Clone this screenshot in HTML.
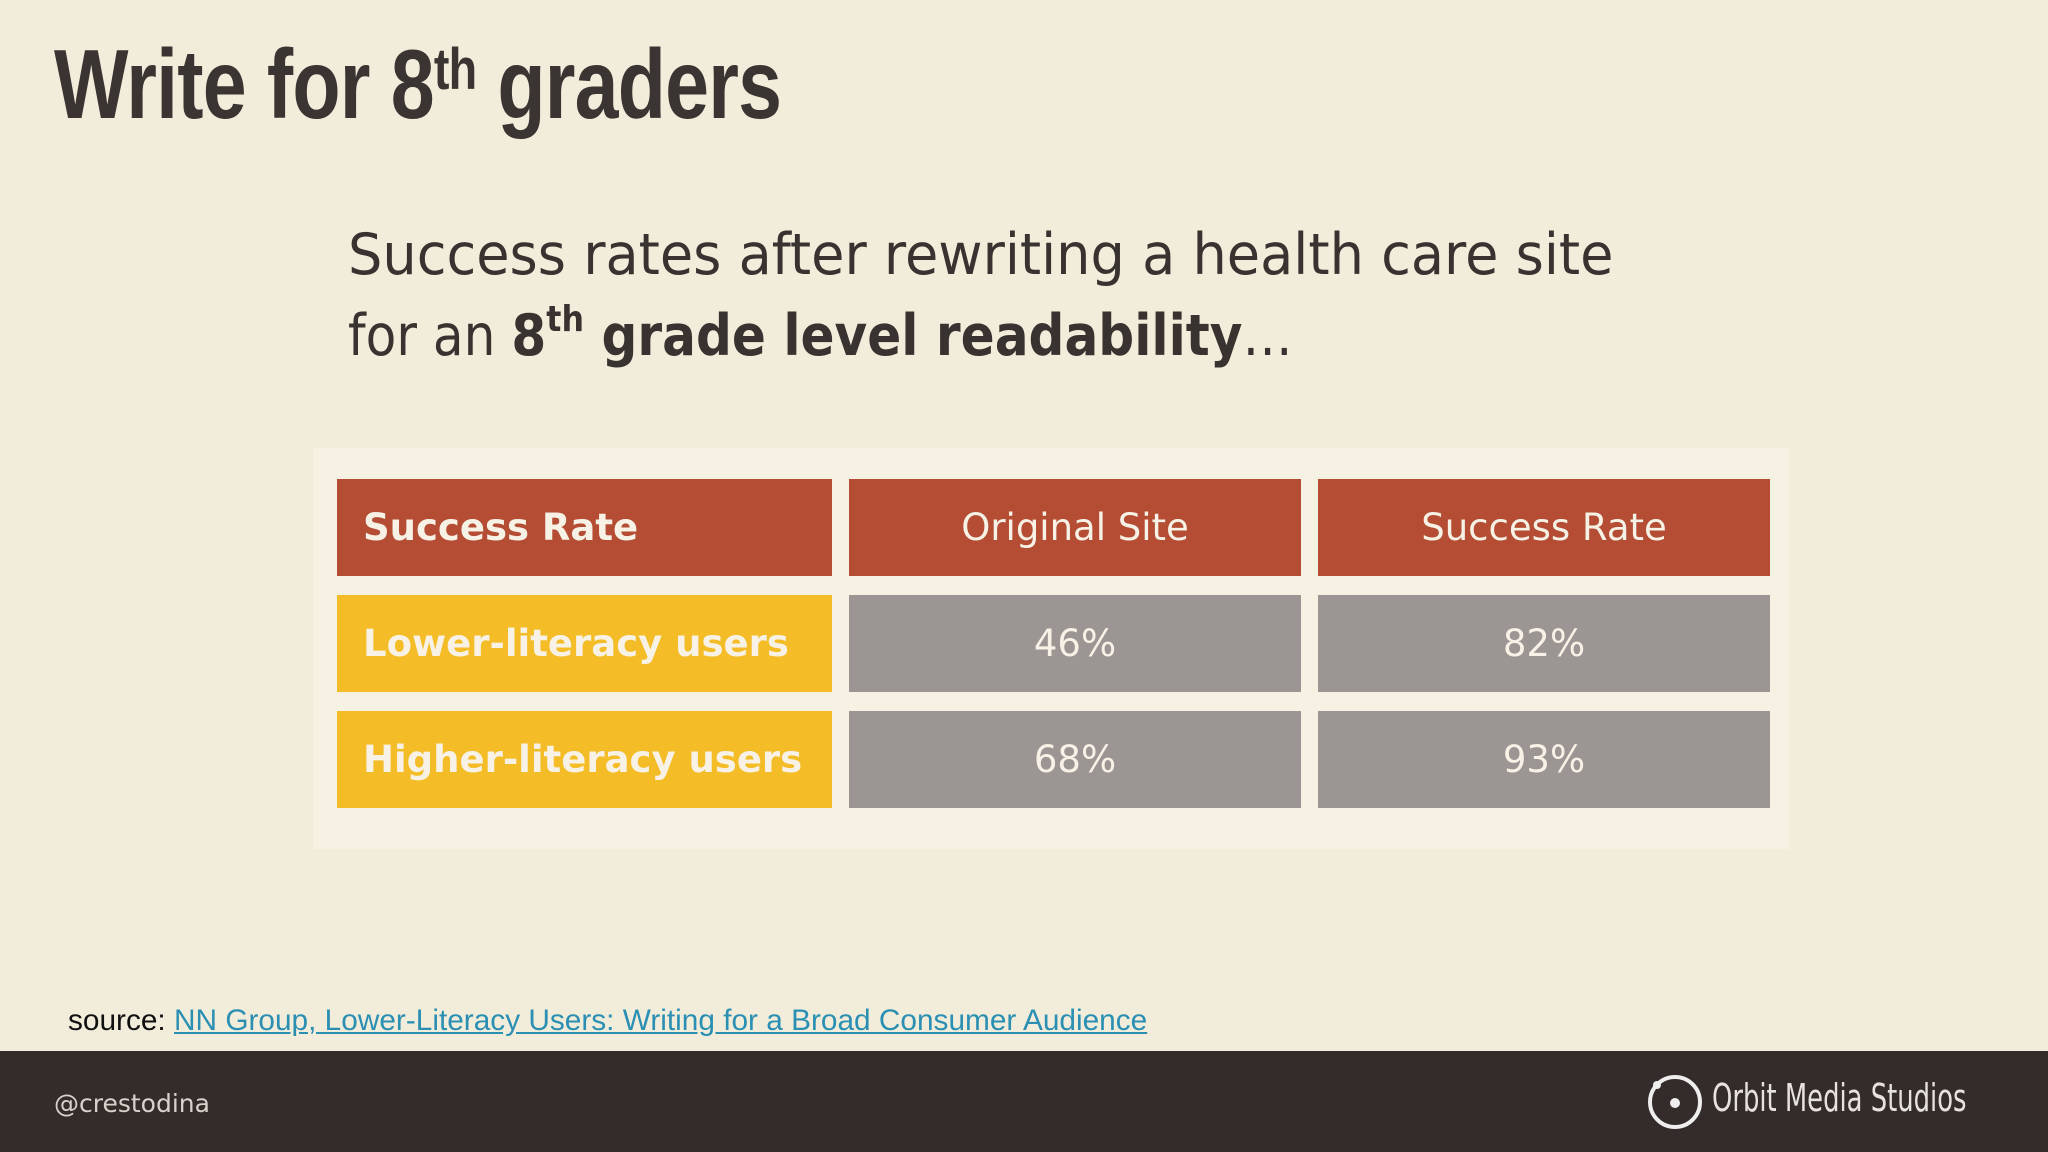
<!DOCTYPE html>
<html><head><meta charset="utf-8">
<style>
body{margin:0;width:2048px;height:1152px;background:#f2eddb;position:relative;overflow:hidden;font-family:"Liberation Sans",sans-serif}
.abs{position:absolute}
#title{left:54px;top:28px;font-size:98px;font-weight:bold;color:#3a3532;transform:scaleX(0.805);transform-origin:left top;white-space:nowrap;letter-spacing:-1px}
#title sup{font-size:58px;vertical-align:top;position:relative;top:8px}
.sub{left:348px;font-family:"DejaVu Sans",sans-serif;font-size:57px;color:#383330;white-space:nowrap;transform-origin:left top}
.sub sup{font-size:36px;vertical-align:top;position:relative;top:-4px}
#panel{left:313px;top:448px;width:1476px;height:401px;background:#f6f1e3}
.cell{position:absolute;display:flex;align-items:center;font-family:"DejaVu Sans",sans-serif;font-size:37px;color:#f7f1e6;white-space:nowrap;box-sizing:border-box}
.hd{background:#b44d33}
.lab{background:#f4bd27;font-weight:bold;padding-left:26px}
.val{background:#9b9594;justify-content:center}
#footer{left:0;top:1051px;width:2048px;height:101px;background:#342c2a}
</style></head><body>
<div id="title" class="abs">Write for 8<sup>th</sup> graders</div>
<div class="abs sub" style="top:222px;transform:scaleX(0.95)">Success rates after rewriting a health care site</div>
<div class="abs sub" style="top:303px;transform:scaleX(0.88)">for an <b>8<sup>th</sup> grade level readability</b>…</div>
<div id="panel" class="abs"></div>
<div id="table"></div>
<div class="abs" style="left:68px;top:1004px;font-size:29.8px;color:#111">source: <a href="#" style="color:#2a8fb3">NN Group, Lower-Literacy Users: Writing for a Broad Consumer Audience</a></div>
<div id="footer" class="abs"></div>
<div class="abs" style="left:54px;top:1089px;font-family:'DejaVu Sans',sans-serif;font-size:25px;color:#d8d2cc">@crestodina</div>
<svg class="abs" style="left:1646px;top:1072px" width="60" height="60"><circle cx="29" cy="30" r="25" fill="none" stroke="#eee" stroke-width="4"/><circle cx="29" cy="31" r="5" fill="#eee"/><circle cx="11" cy="13" r="4" fill="#eee"/></svg>
<div class="abs" style="left:1712px;top:1076px;font-family:'DejaVu Sans',sans-serif;font-size:38px;color:#e6e2dd;transform:scaleX(0.68);transform-origin:left top;white-space:nowrap">Orbit Media Studios</div>
<script>
const headers=["Success Rate","Original Site","Success Rate"];
const rowLabels=["Lower-literacy users","Higher-literacy users"];
const originalSite=["46%","68%"];
const rewrittenSite=["82%","93%"];
const colX=[337,849,1318], colW=[495,452,452];
const rowY=[479,595,711], rowH=97;
const t=document.getElementById('table');
function mk(cls,x,y,w,txt){const d=document.createElement('div');d.className='cell '+cls;d.style.left=x+'px';d.style.top=y+'px';d.style.width=w+'px';d.style.height=rowH+'px';d.textContent=txt;t.appendChild(d);return d;}
headers.forEach((h,i)=>{const d=mk('hd',colX[i],rowY[0],colW[i],h);


if(i===0){d.style.fontWeight='bold';d.style.paddingLeft='26px';}else d.style.justifyContent='center';});
rowLabels.forEach((l,r)=>{
const a=mk('lab',colX[0],rowY[r+1],colW[0],l);


const b=mk('val',colX[1],rowY[r+1],colW[1],originalSite[r]);


const c=mk('val',colX[2],rowY[r+1],colW[2],rewrittenSite[r]);


});
</script>
</body></html>
